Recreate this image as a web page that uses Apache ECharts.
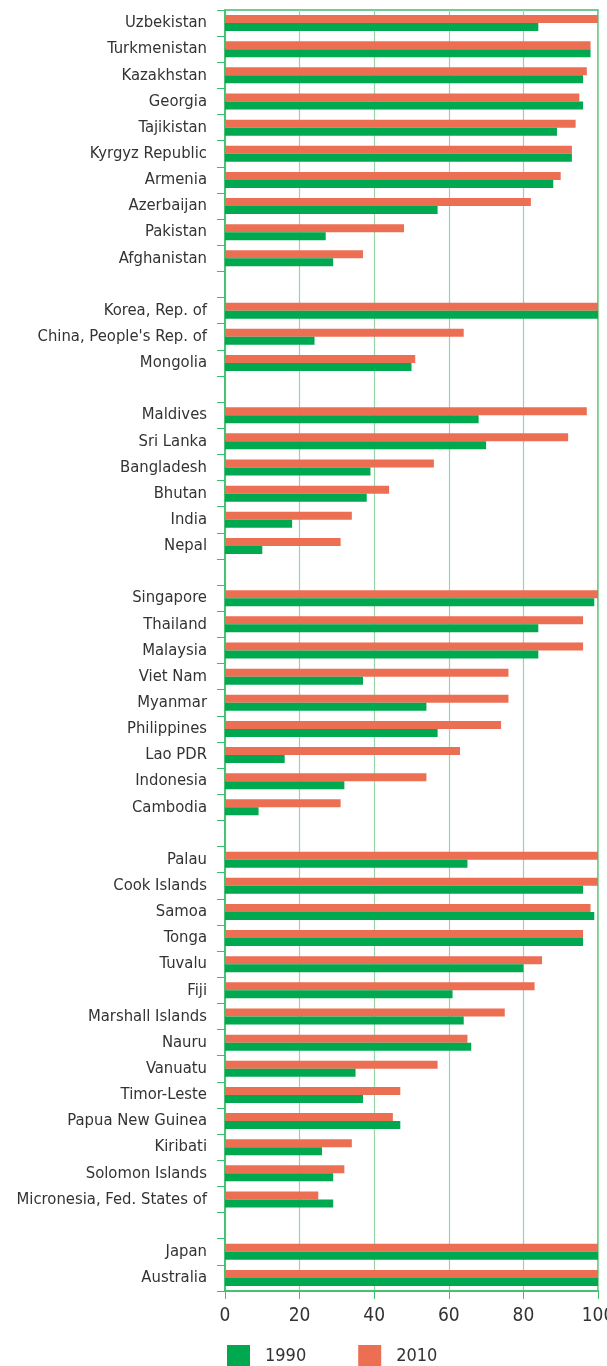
<!DOCTYPE html>
<html>
<head>
<meta charset="utf-8">
<script src="https://cdn.jsdelivr.net/npm/echarts@6/dist/echarts.min.js"></script>
<style>
  html, body { margin: 0; padding: 0; background: #fff; }
  #chart { width: 607px; height: 1366px; }
</style>
</head>
<body>
<div id="chart"></div>
<script>
// categories, top to bottom; "gap" rows are empty spacer rows between regions
let countries = [
    'Uzbekistan', 'Turkmenistan', 'Kazakhstan', 'Georgia', 'Tajikistan',
    'Kyrgyz Republic', 'Armenia', 'Azerbaijan', 'Pakistan', 'Afghanistan',
    'gap1',
    'Korea, Rep. of', "China, People's Rep. of", 'Mongolia',
    'gap2',
    'Maldives', 'Sri Lanka', 'Bangladesh', 'Bhutan', 'India', 'Nepal',
    'gap3',
    'Singapore', 'Thailand', 'Malaysia', 'Viet Nam', 'Myanmar', 'Philippines',
    'Lao PDR', 'Indonesia', 'Cambodia',
    'gap4',
    'Palau', 'Cook Islands', 'Samoa', 'Tonga', 'Tuvalu', 'Fiji', 'Marshall Islands',
    'Nauru', 'Vanuatu', 'Timor-Leste', 'Papua New Guinea', 'Kiribati',
    'Solomon Islands', 'Micronesia, Fed. States of',
    'gap5',
    'Japan', 'Australia'
]

let v1990 = [
    84, 98, 96, 96, 89, 93, 88, 57, 27, 29,
    null,
    100, 24, 50,
    null,
    68, 70, 39, 38, 18, 10,
    null,
    99, 84, 84, 37, 54, 57, 16, 32, 9,
    null,
    65, 96, 99, 96, 80, 61, 64, 66, 35, 37, 47, 26, 29, 29,
    null,
    100, 100
]

let v2010 = [
    100, 98, 97, 95, 94, 93, 90, 82, 48, 37,
    null,
    100, 64, 51,
    null,
    97, 92, 56, 44, 34, 31,
    null,
    100, 96, 96, 76, 76, 74, 63, 54, 31,
    null,
    100, 100, 98, 96, 85, 83, 75, 65, 57, 47, 45, 34, 32, 25,
    null,
    100, 100
]

let xTicks = [0, 20, 40, 60, 80, 100]

let green = '#00a84f'
let orange = '#ec6e53'
let lineGreen = '#3dbd6c'
let font = "'DejaVu Sans Condensed', sans-serif"

var myChart = echarts.init(document.getElementById('chart'))
var option = {
    animation: false,
    grid: {
        left: 225,
        right: 9,
        top: 10,
        bottom: 75,
        outerBoundsMode: 'none',
        containLabel: false,
        show: true,
        borderColor: lineGreen,
        borderWidth: 1.5
    },
    legend: {
        data: ['1990', '2010'],
        left: 227,
        top: 1345,
        padding: 0,
        icon: 'rect',
        itemWidth: 23,
        itemHeight: 22,
        itemGap: 52,
        textStyle: {
            fontFamily: font,
            fontSize: 18,
            color: '#333',
            padding: [0, 0, 0, 10]
        }
    },
    xAxis: {
        type: 'value',
        min: xTicks[0],
        max: xTicks[xTicks.length - 1],
        interval: 20,
        axisLine: { show: true, lineStyle: { color: lineGreen, width: 1.5 } },
        axisTick: { show: true, length: 8, lineStyle: { color: lineGreen } },
        axisLabel: {
            margin: 16,
            fontFamily: font,
            fontSize: 19,
            color: '#333'
        },
        splitLine: { show: true, lineStyle: { color: '#96d6a6', width: 1.2 } }
    },
    yAxis: {
        type: 'category',
        inverse: true,
        data: countries,
        axisLine: { show: true, lineStyle: { color: lineGreen, width: 1.5 } },
        axisTick: { show: true, length: 8, lineStyle: { color: lineGreen } },
        axisLabel: {
            margin: 18,
            fontFamily: font,
            fontSize: 16.5,
            color: '#333',
            interval: 0,
            formatter: function (v) {
                return v.indexOf('gap') === 0 ? '' : v
            }
        }
    },
    series: [
        {
            name: '2010',
            type: 'bar',
            data: v2010,
            barWidth: 8,
            barGap: '0%',
            itemStyle: { color: orange }
        },
        {
            name: '1990',
            type: 'bar',
            data: v1990,
            barWidth: 8,
            barGap: '0%',
            itemStyle: { color: green }
        }
    ]
}
myChart.setOption(option)
</script>
</body>
</html>
